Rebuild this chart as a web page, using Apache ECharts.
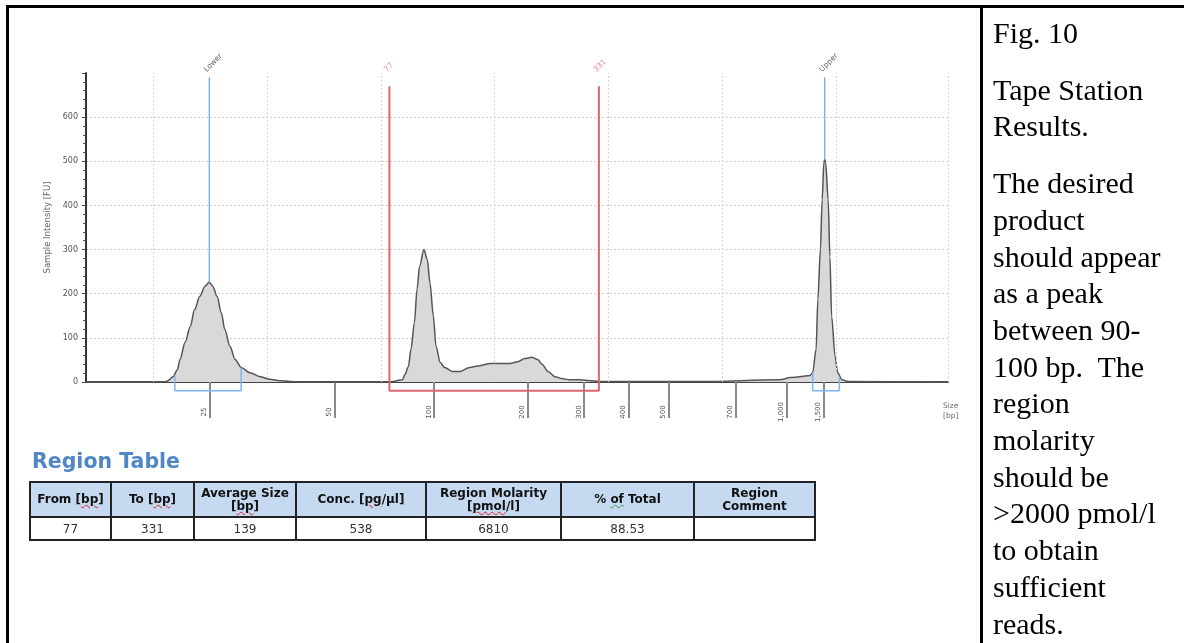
<!DOCTYPE html>
<html>
<head>
<meta charset="utf-8">
<script src="https://cdn.jsdelivr.net/npm/echarts@6/dist/echarts.min.js"></script>
<style>
  html, body { margin: 0; padding: 0; background: #fff; width: 1184px; height: 643px; overflow: hidden; }
  #chart { position: absolute; left: 0; top: 0; width: 1184px; height: 643px; }
  .frame { position: absolute; left: 6px; top: 5px; width: 1300px; height: 700px; border-left: 3px solid #000; border-top: 3px solid #000; pointer-events: none; }
  .divider { position: absolute; left: 980px; top: 5px; width: 3px; height: 660px; background: #000; }
  #caption { position: absolute; left: 993px; top: 15px; width: 191px; font-family: "Liberation Serif", "Times New Roman", serif; font-size: 30px; line-height: 36.7px; color: #000; white-space: nowrap; }
  #caption p { margin: 0 0 20px 0; }
  #regionTitle { position: absolute; left: 32px; top: 449px; font-family: "DejaVu Sans", sans-serif; font-weight: bold; font-size: 20.5px; line-height: 25px; color: #4f86c6; }
  #regionTable { position: absolute; left: 29px; top: 481px; border-collapse: collapse; font-family: "DejaVu Sans", sans-serif; font-size: 12px; }
  #regionTable td, #regionTable th { border: 2px solid #222; text-align: center; padding: 0; }
  #regionTable th { background: #c5d9f1; height: 33px; line-height: 12.5px; font-size: 12px; font-weight: bold; color: #111; }
  #regionTable td { height: 21px; color: #333; }
  .sp { text-decoration: underline wavy #e0202a; text-decoration-thickness: 1px; }
  .gr { text-decoration: underline wavy #3a9a3a; text-decoration-thickness: 1px; }
</style>
</head>
<body>
<div id="chart"></div>
<div class="frame"></div>
<div class="divider"></div>
<div id="regionTitle">Region Table</div>
<table id="regionTable"></table>
<div id="caption"></div>
<script>
// ---- data ----
// migration position (0-100 across the trace) and sample intensity [FU]
const sizePosition = [
  0, 9.2, 9.5, 10.1, 10.6, 10.9, 11.5, 12.1, 12.6, 13.2, 13.8, 14.3, 14.7, 15.2, 15.7, 16.1, 16.7, 17.3, 18.0, 19.0, 20.2, 21.3, 22.5, 23.7, 24.8,
  35.2, 36.7, 37.0, 37.4, 37.7, 38.1, 38.4, 38.7, 39.2, 39.6, 39.9, 40.3, 40.6, 41.1, 41.6, 42.5, 43.4, 44.5, 45.7, 46.9, 48.0, 49.2, 50.1, 50.9, 51.7, 52.4, 52.9, 53.6, 54.4, 55.2, 56.1, 57.3, 58.5, 59.6, 61.9, 64.3, 71.2,
  80.5, 81.7, 82.8, 84.0, 84.3, 84.7, 84.9, 85.2, 85.4, 85.6, 85.7, 85.8, 86.1, 86.3, 86.5, 86.9, 87.2, 87.7, 88.4, 100
];
const intensity = [
  0, 0, 3, 12, 28, 51, 90, 126, 164, 194, 217, 226, 217, 194, 157, 119, 81, 51, 33, 21, 12, 6, 3, 1, 0,
  0, 5, 17, 35, 74, 135, 209, 262, 300, 277, 225, 149, 81, 44, 33, 24, 24, 33, 37, 42, 42, 42, 46, 53, 56, 51, 40, 24, 12, 8, 5, 5, 3, 1, 1, 1, 1,
  5, 10, 12, 15, 21, 74, 187, 300, 413, 497, 504, 497, 413, 284, 149, 58, 21, 5, 1, 0
];
// ladder sizes [bp] and their migration positions
const ladderSizes = [25, 50, 100, 200, 300, 400, 500, 700, 1000, 1500];
const ladderPos = [14.3, 28.9, 40.4, 51.2, 57.8, 63.0, 67.6, 75.4, 81.3, 85.6];
// vertical run-time grid positions
const gridPos = [7.8, 21.0, 34.2, 47.4, 60.6, 73.8, 87.0, 100];
// markers
const markerLabels = ['Lower', '77', '331', 'Upper'];
const markerPos = [14.3, 35.2, 59.5, 85.7];
const markerTop = [690, 670, 670, 690];
const regionBottom = -20;
const lowerBracket = { from: 10.3, to: 18.0, leftY: 14, rightY: 33 };
const upperBracket = { from: 84.3, to: 87.4, leftY: 21, rightY: 12 };
const labelY = 705;
const yMax = 700;
// region table
const tableHeaders = ['From [bp]', 'To [bp]', 'Average Size [bp]', 'Conc. [pg/µl]', 'Region Molarity [pmol/l]', '% of Total', 'Region Comment'];
const tableRow = ['77', '331', '139', '538', '6810', '88.53', ''];
const colWidths = [79, 81, 100, 128, 133, 131, 119];
// caption
const captionParas = [
  ['Fig. 10'],
  ['Tape Station', 'Results.'],
  ['The desired', 'product', 'should appear', 'as a peak', 'between 90-', '100 bp.&nbsp; The', 'region', 'molarity', 'should be', '&gt;2000 pmol/l', 'to obtain', 'sufficient', 'reads.']
];

// ---- build HTML parts ----
function decorate(h) {
  return h.replace('Average Size', 'Average&nbsp;Size')
          .replace(/\[bp\]/g, '[<span class="sp">bp</span>]')
          .replace('[pg/', '[<span class="sp">pg</span>/')
          .replace('[pmol/', '[<span class="sp">pmol</span>/')
          .replace('% of', '% <span class="gr">of</span>')
          .replace('Molarity ', 'Molarity<br>')
          .replace('Region Comment', 'Region<br>Comment')
          .replace('Size [', 'Size<br>[');
}
let html = '<tr>' + tableHeaders.map((h, i) => '<th style="width:' + colWidths[i] + 'px">' + decorate(h) + '</th>').join('') + '</tr>';
html += '<tr>' + tableRow.map(v => '<td>' + v + '</td>').join('') + '</tr>';
document.getElementById('regionTable').innerHTML = html;
document.getElementById('caption').innerHTML = captionParas.map(p => '<p>' + p.join('<br>') + '</p>').join('');

// ---- chart ----
const red = '#dc6670';
const blue = '#7db6f0';
const trace = sizePosition.map((p, i) => [p, intensity[i]]);
const peakAt = pos => intensity[sizePosition.indexOf(pos)];

const chart = echarts.init(document.getElementById('chart'), null, { renderer: 'canvas' });
chart.setOption({
  animation: false,
  textStyle: { fontFamily: 'DejaVu Sans' },
  title: {
    text: 'Size\n[bp]', left: 938, top: 396,
    textStyle: { fontSize: 7.5, color: '#666', fontWeight: 'normal', lineHeight: 10 }
  },
  grid: { left: 86, right: 236, top: 73, bottom: 261 },
  xAxis: [
    {
      type: 'value', min: 0, max: 100,
      axisLine: { show: true, onZero: false, lineStyle: { color: '#444', width: 2 } },
      axisTick: { show: false }, axisLabel: { show: false }, splitLine: { show: false }
    },
    {
      type: 'value', min: 0, max: 100, position: 'bottom', offset: 10,
      axisLine: { show: false },
      axisTick: { show: true, customValues: ladderPos, length: 36, lineStyle: { color: '#8a8a8a', width: 2 } },
      axisLabel: {
        show: true, customValues: ladderPos, rotate: 90, fontSize: 7, color: '#555', margin: 20,
        align: 'center', verticalAlign: 'bottom', padding: [0, 0, 2, 0],
        formatter: v => {
          let best = 0;
          ladderPos.forEach((p, i) => { if (Math.abs(p - v) < Math.abs(ladderPos[best] - v)) best = i; });
          return ladderSizes[best].toLocaleString('en-US');
        }
      },
      splitLine: { show: false }
    }
  ],
  yAxis: {
    type: 'value', min: 0, max: yMax, interval: 100,
    name: 'Sample Intensity [FU]', nameLocation: 'middle', nameGap: 27,
    nameTextStyle: { fontSize: 8.5, color: '#666' },
    axisLine: { show: true, lineStyle: { color: '#333', width: 2 } },
    axisTick: { show: true, length: 4, lineStyle: { color: '#444' } },
    minorTick: { show: true, splitNumber: 5, length: 3, lineStyle: { color: '#555' } },
    axisLabel: { fontSize: 8, color: '#555', margin: 8, showMaxLabel: false },
    splitLine: { show: true, showMaxLine: false, showMinLine: false, lineStyle: { color: '#cfcfcf', type: [2, 2], width: 1 } }
  },
  series: [
    {
      type: 'line', data: [], z: 1, silent: true,
      markLine: {
        silent: true, symbol: 'none', label: { show: false }, animation: false,
        lineStyle: { color: '#d6d6d6', type: [2, 2], width: 1 },
        data: gridPos.map(v => ({ xAxis: v }))
      }
    },
    {
      type: 'line', data: trace, z: 3, smooth: 0.3, smoothMonotone: 'x',
      showSymbol: false, symbol: 'none',
      lineStyle: { color: '#555', width: 1.5 },
      areaStyle: { color: '#d9d9d9', opacity: 1 }
    },
    {
      type: 'line', z: 4, symbol: 'none', clip: false,
      data: [[markerPos[0], peakAt(markerPos[0])], [markerPos[0], markerTop[0]]],
      lineStyle: { color: blue, width: 1.5 }
    },
    {
      type: 'line', z: 4, symbol: 'none', clip: false,
      data: [[markerPos[3], peakAt(markerPos[3])], [markerPos[3], markerTop[3]]],
      lineStyle: { color: blue, width: 1.5 }
    },
    {
      type: 'line', z: 4, symbol: 'none', clip: false,
      data: [[markerPos[1], markerTop[1]], [markerPos[1], regionBottom], [markerPos[2], regionBottom], [markerPos[2], markerTop[2]]],
      lineStyle: { color: red, width: 2 }
    },
    {
      type: 'line', z: 4, symbol: 'none', clip: false,
      data: [[lowerBracket.from, lowerBracket.leftY], [lowerBracket.from, regionBottom], [lowerBracket.to, regionBottom], [lowerBracket.to, lowerBracket.rightY]],
      lineStyle: { color: blue, width: 1.5 }
    },
    {
      type: 'line', z: 4, symbol: 'none', clip: false,
      data: [[upperBracket.from, upperBracket.leftY], [upperBracket.from, regionBottom], [upperBracket.to, regionBottom], [upperBracket.to, upperBracket.rightY]],
      lineStyle: { color: blue, width: 1.5 }
    },
    {
      type: 'scatter', z: 5, symbolSize: 0, clip: false, silent: true,
      data: markerPos.map((p, i) => ({
        value: [p, labelY],
        label: { color: (i === 1 || i === 2) ? red : '#333' }
      })),
      label: {
        show: true, position: [-4, 0], rotate: 45, align: 'left', verticalAlign: 'middle', fontSize: 7.5,
        formatter: p => markerLabels[p.dataIndex]
      }
    }
  ]
});
</script>
</body>
</html>
